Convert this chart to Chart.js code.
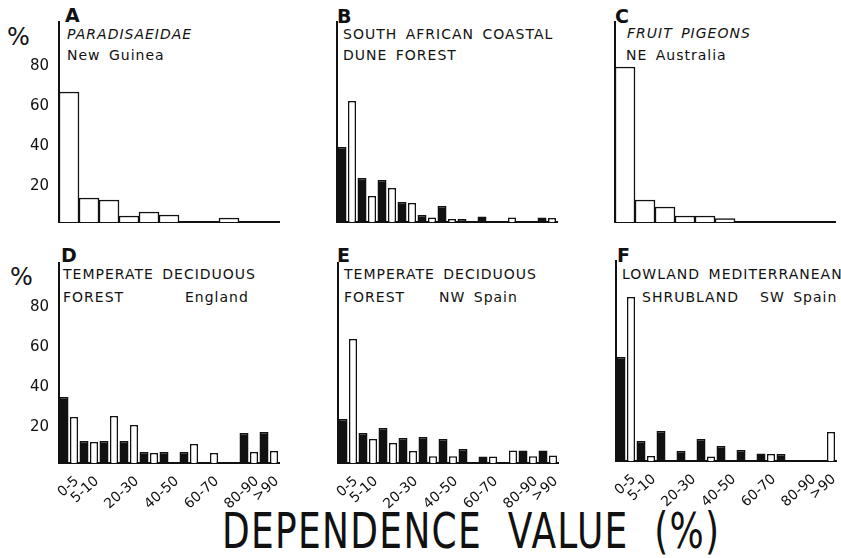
<!DOCTYPE html>
<html lang="en">
<head>
<meta charset="UTF-8">
<title>Dependence value histograms</title>
<style>
  body { margin: 0; background: #fff; }
  #page { position: relative; width: 841px; height: 558px; overflow: hidden;
          font-family: "DejaVu Sans", sans-serif; color: #111; }
  canvas { position: absolute; }
  .txt { position: absolute; font-size: 14px; line-height: 1; letter-spacing: 1px;
         word-spacing: 3px; white-space: pre; }
  .it { font-style: italic; }
  .letter { position: absolute; font-size: 19px; font-weight: bold; line-height: 1; }
  .pct { position: absolute; font-size: 24px; line-height: 1; }
  #xtitle { position: absolute; left: 222px; top: 506px; font-size: 50px; line-height: 1;
            white-space: pre; letter-spacing: 1.8px; word-spacing: 18px;
            transform: scaleX(0.72); transform-origin: 0 0; }
</style>
<script src="https://cdn.jsdelivr.net/npm/chart.js"></script>
</head>
<body>
<div id="page">
  <div class="pct" style="left:7px; top:25px;">%</div>
  <div class="pct" style="left:10px; top:265px;">%</div>

  <div class="letter" style="left:65px; top:6px;">A</div>
  <div class="txt it" style="left:67px; top:27px;">PARADISAEIDAE</div>
  <div class="txt" style="left:67px; top:48px;">New Guinea</div>

  <div class="letter" style="left:337px; top:7px;">B</div>
  <div class="txt" style="left:343px; top:27px;">SOUTH AFRICAN COASTAL</div>
  <div class="txt" style="left:343px; top:48px;">DUNE FOREST</div>

  <div class="letter" style="left:615px; top:7px;">C</div>
  <div class="txt it" style="left:627px; top:26px;">FRUIT PIGEONS</div>
  <div class="txt" style="left:626px; top:48px;">NE Australia</div>

  <div class="letter" style="left:61px; top:246px;">D</div>
  <div class="txt" style="left:63px; top:267px;">TEMPERATE DECIDUOUS</div>
  <div class="txt" style="left:63px; top:290px;">FOREST</div>
  <div class="txt" style="left:185px; top:290px;">England</div>

  <div class="letter" style="left:337px; top:246px;">E</div>
  <div class="txt" style="left:344px; top:267px;">TEMPERATE DECIDUOUS</div>
  <div class="txt" style="left:344px; top:290px;">FOREST</div>
  <div class="txt" style="left:439px; top:290px;">NW Spain</div>

  <div class="letter" style="left:617px; top:246px;">F</div>
  <div class="txt" style="left:622px; top:267px;">LOWLAND MEDITERRANEAN</div>
  <div class="txt" style="left:642px; top:290px;">SHRUBLAND</div>
  <div class="txt" style="left:760px; top:290px;">SW Spain</div>

  <div id="xtitle">DEPENDENCE VALUE (%)</div>
</div>

<script>
  // categorias de valor de dependencia (%)
  const categorias = ['0-5', '5-10', '10-20', '20-30', '30-40', '40-50', '50-60', '60-70', '70-80', '80-90', '>90'];
  // solo algunas llevan etiqueta en el eje
  const etiquetasX = ['0-5', '5-10', '', '20-30', '', '40-50', '', '60-70', '', '80-90', '>90'];
  const etiquetasY = [20, 40, 60, 80];

  // A y C: una sola serie (barras blancas)
  const aBlanco = [65, 12, 11, 3, 5, 3.5, 0, 0, 2, 0, 0];
  const cBlanco = [77.5, 11, 7.5, 3, 3, 1.7, 0, 0, 0, 0, 0];

  // B, D, E, F: barras negras y blancas
  const bNegro  = [37.5, 22, 21, 10, 3.5, 8, 1.5, 2.7, 0, 0, 2.2];
  const bBlanco = [60.5, 13, 17, 9.5, 2.3, 1.5, 0, 0, 2.3, 0, 2];
  const dNegro  = [33, 11, 11, 11, 5.5, 5.5, 5.5, 0, 0, 15, 15.5];
  const dBlanco = [23, 10.5, 23.5, 19, 5, 0, 9.5, 5, 0, 5.5, 6];
  const eNegro  = [22, 15, 17.5, 12.5, 13, 12, 7, 3.2, 0, 6.3, 6.3];
  const eBlanco = [62, 12, 10, 6, 3.4, 3.4, 0, 3.2, 6.3, 3.4, 3.8];
  const fNegro  = [52, 10, 15, 5, 11, 7.5, 5.5, 3.7, 3.5, 0, 0];
  const fBlanco = [82, 2.5, 0, 0, 2.2, 0, 0, 3.5, 0, 0, 14.5];

  const TINTA = '#111';
  const FUENTE = '"DejaVu Sans", sans-serif';
  const PAD_TOP = 12;

  function crearPanel(ejeX, base, negro, blanco, conY, conX) {
    const anchoY = conY ? 59 : 20;
    const altoX = conX ? 60 : 12;
    const canvas = document.createElement('canvas');
    canvas.width = anchoY + 220 + 4;
    canvas.height = PAD_TOP + 200 + altoX;
    canvas.style.left = (ejeX - anchoY) + 'px';
    canvas.style.top = (base - 200 - PAD_TOP) + 'px';
    document.getElementById('page').appendChild(canvas);

    const datasets = [];
    const doble = negro !== null;
    if (doble) {
      datasets.push({ data: negro, backgroundColor: TINTA, borderColor: TINTA, borderWidth: 1.5,
                      barPercentage: 0.9, categoryPercentage: 1 });
    }
    datasets.push({ data: blanco, backgroundColor: '#fff', borderColor: TINTA, borderWidth: 1.5,
                    barPercentage: doble ? 0.8 : 1, categoryPercentage: 1 });

    return new Chart(canvas.getContext('2d'), {
      type: 'bar',
      data: { labels: categorias, datasets: datasets },
      options: {
        responsive: false,
        animation: false,
        layout: { padding: { top: PAD_TOP, right: 4, left: 0, bottom: 0 } },
        plugins: { legend: { display: false }, tooltip: { enabled: false } },
        scales: {
          x: {
            grid: { display: false },
            border: { display: true, color: TINTA, width: 2 },
            ticks: {
              display: conX,
              autoSkip: false,
              minRotation: 42,
              maxRotation: 42,
              padding: 2,
              labelOffset: 8,
              color: TINTA,
              font: { family: FUENTE, size: 14 },
              callback: (v, i) => etiquetasX[i]
            },
            afterFit: s => { s.height = altoX; }
          },
          y: {
            min: 0,
            max: 100,
            grid: { display: false },
            border: { display: true, color: TINTA, width: 2 },
            ticks: {
              display: conY,
              stepSize: 20,
              padding: 2,
              labelOffset: 4,
              color: TINTA,
              font: { family: FUENTE, size: 15 },
              callback: v => etiquetasY.includes(v) ? v : ''
            },
            afterFit: s => { s.width = anchoY; }
          }
        }
      }
    });
  }

  crearPanel(59, 222, null, aBlanco, true, false);
  crearPanel(337, 222, bNegro, bBlanco, false, false);
  crearPanel(615, 222, null, cBlanco, false, false);
  crearPanel(59, 463, dNegro, dBlanco, true, true);
  crearPanel(338, 463, eNegro, eBlanco, false, true);
  crearPanel(616, 461, fNegro, fBlanco, false, true);
</script>
</body>
</html>
